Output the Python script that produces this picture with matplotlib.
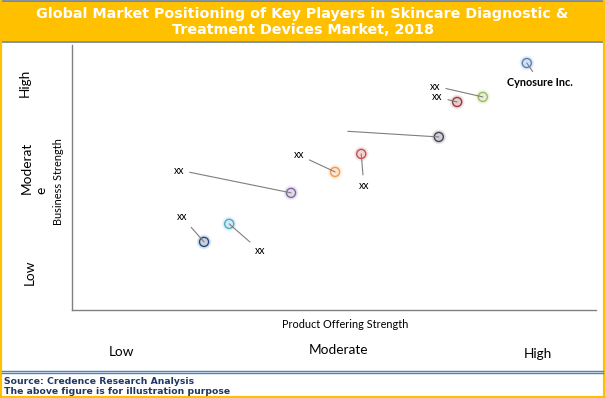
import matplotlib
matplotlib.use("Agg")
import matplotlib.pyplot as plt
from matplotlib.patches import Rectangle
from matplotlib.lines import Line2D

# ---- data (scale 0-10 on both axes) ----
players = ["Cynosure Inc.", "xx", "xx", "", "xx", "xx", "xx", "xx", "xx"]
product_strength = [8.68, 7.84, 7.35, 7.00, 5.52, 5.02, 4.18, 3.00, 2.52]
business_strength = [9.32, 8.04, 7.85, 6.53, 5.89, 5.21, 4.42, 3.25, 2.57]
label_x = [8.93, 6.93, 6.97, 5.21, 5.57, 4.33, 2.04, 3.59, 2.10]
label_y = [8.60, 8.45, 8.04, 6.75, 4.68, 5.85, 5.28, 2.23, 3.51]
colors = ["#4f81bd", "#9bbb59", "#953735", "#403f52", "#c0504d",
          "#f79646", "#8064a2", "#4bacc6", "#1f497d"]
x_levels = ["Low", "Moderate", "High"]
y_levels = ["Low", "Moderat\ne", "High"]

W, H = 605, 398
fig = plt.figure(figsize=(W / 100, H / 100), dpi=100)
fig.patch.set_facecolor("white")

def fx(px):
    return px / W

def fy(py):
    return 1 - py / H

# title band
fig.patches.append(Rectangle((0, fy(41)), 1, fy(1) - fy(41), transform=fig.transFigure,
                             facecolor="#ffc000", edgecolor="none", zorder=0))
for yy in (1, 41.5):
    fig.lines.append(Line2D([0, 1], [fy(yy), fy(yy)], transform=fig.transFigure,
                            color="#6f7f8f", lw=1.2))
# yellow frame sides and bottom
fig.lines.append(Line2D([fx(0.8), fx(0.8)], [0, 1], transform=fig.transFigure, color="#ffc000", lw=1.6))
fig.lines.append(Line2D([fx(603.5), fx(603.5)], [0, 1], transform=fig.transFigure, color="#ffc000", lw=1.6))
fig.lines.append(Line2D([0, 1], [fy(397.3), fy(397.3)], transform=fig.transFigure, color="#ffc000", lw=1.6))
# footer double blue line
for yy in (370.5, 372.8):
    fig.lines.append(Line2D([fx(1.5), fx(602.5)], [fy(yy), fy(yy)], transform=fig.transFigure,
                            color="#4f81bd", lw=1.0))

fig.text(0.5, fy(22), "Global Market Positioning of Key Players in Skincare Diagnostic &\nTreatment Devices Market, 2018",
         ha="center", va="center", color="white", fontsize=10.3, fontweight="bold",
         family="DejaVu Sans", linespacing=1.22)

fig.text(fx(4), fy(381), "Source: Credence Research Analysis", ha="left", va="center",
         color="#1f3864", fontsize=6.7, fontweight="bold", family="DejaVu Sans")
fig.text(fx(4), fy(392), "The above figure is for illustration purpose", ha="left", va="center",
         color="#1f3864", fontsize=6.7, fontweight="bold", family="DejaVu Sans")

# axes
ax = fig.add_axes([fx(72), fy(310), fx(596) - fx(72), fy(45) - fy(310)])
ax.set_xlim(0, 10)
ax.set_ylim(0, 10)
ax.set_facecolor("none")
for s in ("top", "right"):
    ax.spines[s].set_visible(False)
for s in ("left", "bottom"):
    ax.spines[s].set_color("#808080")
    ax.spines[s].set_linewidth(1.0)
ax.set_xticks([])
ax.set_yticks([])

# glow then markers
ax.scatter(product_strength, business_strength, s=10.5 ** 2, c=colors, alpha=0.13,
           edgecolors="none", zorder=2)
ax.scatter(product_strength, business_strength, s=8.5 ** 2, c=colors, alpha=0.13,
           edgecolors="none", zorder=2)
ax.scatter(product_strength, business_strength, s=6.5 ** 2, facecolors="none",
           edgecolors=colors, linewidths=0.95, zorder=3)

for name, x, y, lx, ly in zip(players, product_strength, business_strength, label_x, label_y):
    big = name.startswith("Cyn")
    ax.annotate(name, xy=(x, y), xytext=(lx, ly), textcoords="data",
                ha="center", va="center", fontsize=7.8 if big else 7.6,
                fontweight="bold" if big else "normal", family="Lato", color="black",
                arrowprops=dict(arrowstyle="-", color="#7f7f7f", lw=0.8,
                                shrinkA=2, shrinkB=0), zorder=4)

# axis category labels
fig.text(fx(345), fy(325), "Product Offering Strength", ha="center", va="center",
         fontsize=7.8, family="Lato")
for lab, px, py in zip(x_levels, (122, 338, 538), (352, 350, 354)):
    fig.text(fx(px), fy(py), lab, ha="center", va="center", fontsize=9.8, family="Lato")

fig.text(fx(58), fy(182), "Business Strength", ha="center", va="center", rotation=90,
         fontsize=7.9, family="Lato")
fig.text(fx(25), fy(83), y_levels[2], ha="center", va="center", rotation=90,
         fontsize=9.8, family="Lato")
fig.text(fx(43), fy(168), y_levels[1], ha="center", va="baseline", rotation=90,
         rotation_mode="anchor", multialignment="left", fontsize=9.8, family="Lato",
         linespacing=1.2)
fig.text(fx(30), fy(272), y_levels[0], ha="center", va="center", rotation=90,
         fontsize=9.8, family="Lato")

fig.savefig("out.png", dpi=100)
